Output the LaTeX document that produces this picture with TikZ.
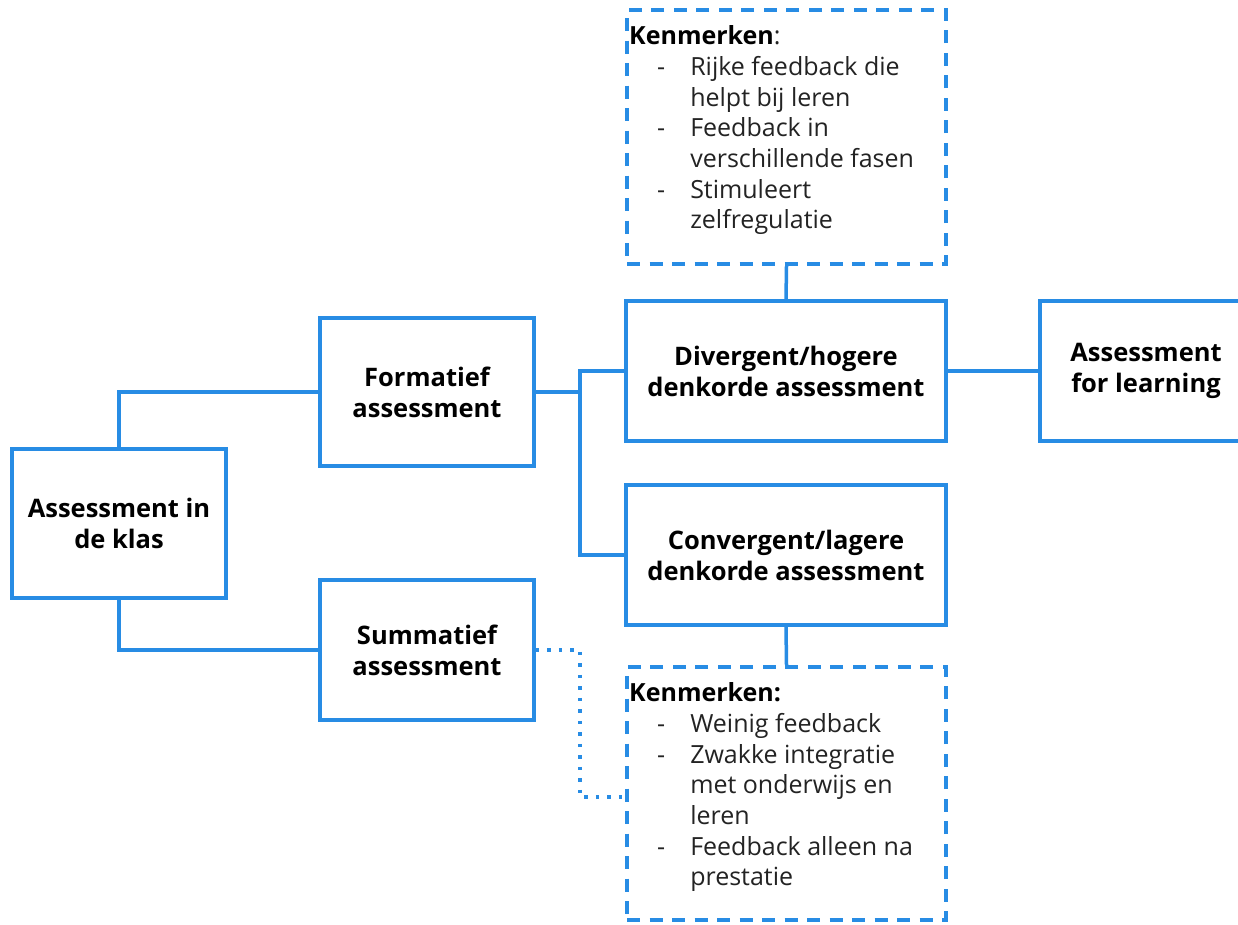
\documentclass[tikz,border=0pt]{standalone}
\usepackage{fontspec}
\setmainfont{Open Sans}
\definecolor{lineblue}{RGB}{40,140,228}
\definecolor{txt}{RGB}{35,35,35}
\begin{document}
\begin{tikzpicture}[x=1pt,y=-1pt,
  box/.style={draw=lineblue,line width=3.5pt,rectangle,inner sep=0pt,align=center,
    font=\fontsize{25.5}{31}\selectfont\bfseries,text=black},
  dbox/.style={draw=lineblue,line width=4pt,rectangle,inner sep=0pt,dash pattern=on 13pt off 9.5pt},
  conn/.style={draw=lineblue,line width=3.5pt},
  dconn/.style={draw=lineblue,line width=3.5pt,dash pattern=on 3.5pt off 8pt},
  listtext/.style={inner sep=0pt,anchor=north west,text=txt,font=\fontsize{25}{30.7}\selectfont}
]
\useasboundingbox (0,0) rectangle (1238,924);
\fill[white] (0,0) rectangle (1238,924);
\node[box,minimum width=214pt,minimum height=149pt] (klas) at (119,523.5) {Assessment in\\de klas};
\node[box,minimum width=214pt,minimum height=148pt] (form) at (427,392) {Formatief\\assessment};
\node[box,minimum width=214pt,minimum height=140pt] (summ) at (427,650) {Summatief\\assessment};
\node[box,minimum width=320pt,minimum height=140pt] (div) at (786,371) {Divergent/hogere\\denkorde assessment};
\node[box,minimum width=320pt,minimum height=140pt] (conv) at (786,555) {Convergent/lagere\\denkorde assessment};
\begin{scope}
\clip (0,0) rectangle (1238,924);
\node[box,minimum width=212pt,minimum height=140pt] (afl) at (1146,371) {Assessment\\for learning};
\end{scope}
\node[dbox,minimum width=319pt,minimum height=254pt] (tdash) at (786.5,137) {};
\node[dbox,minimum width=319pt,minimum height=253pt] (bdash) at (786.5,793.5) {};
\node[listtext] (tlist) at (629,23) {%
\begin{tabular}{@{\hspace{28pt}}l@{\hspace{25pt}}l@{}}
\multicolumn{2}{@{}l@{}}{\textbf{\color{black}Kenmerken}:}\\
-& Rijke feedback die\\
 & helpt bij leren\\
-& Feedback in\\
 & verschillende fasen\\
-& Stimuleert\\
 & zelfregulatie
\end{tabular}};
\node[listtext] (blist) at (629,680) {%
\begin{tabular}{@{\hspace{28pt}}l@{\hspace{25pt}}l@{}}
\multicolumn{2}{@{}l@{}}{\textbf{\color{black}Kenmerken:}}\\
-& Weinig feedback\\
-& Zwakke integratie\\
 & met onderwijs en\\
 & leren\\
-& Feedback alleen na\\
 & prestatie
\end{tabular}};
\draw[conn] (klas.north) |- (form.west);
\draw[conn] (klas.south) |- (summ.west);
\coordinate (fj) at (580,392);
\draw[conn] (form.east) -- (fj);
\draw[conn] (div.west) -| (fj) |- (conv.west);
\draw[conn] (div.east) -- (afl.west);
\draw[conn] (tdash.south) -- (div.north);
\draw[conn] (conv.south) -- (bdash.north);
\coordinate (sj) at (580,650);
\draw[dconn] (summ.east) -- (sj) |- (bdash.west |- 0,797);
\end{tikzpicture}
\end{document}
